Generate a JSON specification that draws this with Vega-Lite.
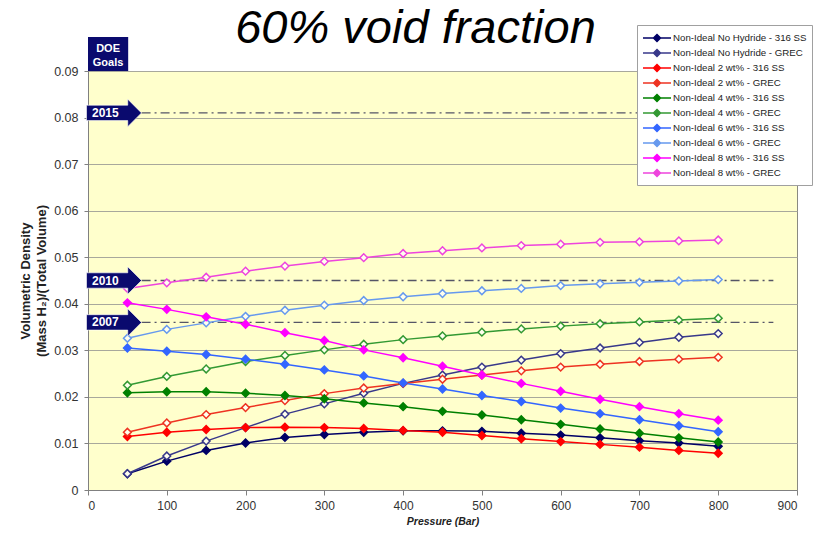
{
  "$schema": "https://vega.github.io/schema/vega-lite/v6.json",
  "autosize": {"type": "none"},
  "width": 709,
  "height": 419,
  "padding": {"left": 88, "top": 71, "right": 20, "bottom": 45},
  "background": "white",
  "config": {
    "font": "Liberation Sans",
    "view": {"fill": "#FFFFCC", "stroke": "#8a8a80", "strokeWidth": 1}
  },
  "title": {
    "text": "60% void fraction",
    "fontSize": 47,
    "fontStyle": "italic",
    "fontWeight": "normal",
    "font": "Liberation Sans",
    "color": "#000000",
    "anchor": "middle",
    "dx": -27,
    "dy": 28,
    "offset": 0
  },
  "layer": [
    {
      "data": {"values": [
        {"goal": "2015", "value": 0.081},
        {"goal": "2010", "value": 0.045},
        {"goal": "2007", "value": 0.036}
      ]},
      "mark": {"type": "rule", "strokeDash": [9, 4, 2, 4], "strokeWidth": 1.3, "color": "#555566"},
      "encoding": {
        "x": {"datum": 68},
        "x2": {"datum": 870},
        "y": {"field": "value", "type": "quantitative"}
      }
    },
    {
      "data": {"name": "series"},
      "mark": {"type": "line", "strokeWidth": 1.5},
      "encoding": {
        "x": {"field": "p", "type": "quantitative", "scale": {"domain": [0, 900]},
          "axis": {"values": [0,100,200,300,400,500,600,700,800,900], "title": "Pressure (Bar)", "grid": false,
            "labelFontSize": 12, "labelColor": "#333333", "labelPadding": 5, "tickSize": 5, "tickColor": "#808080",
            "domainColor": "#808080", "titleFontSize": 10.5, "titleFontWeight": "bold", "titleFontStyle": "italic",
            "titlePadding": 5, "titleColor": "#222222"}},
        "y": {"field": "v", "type": "quantitative", "scale": {"domain": [0, 0.09]},
          "axis": {"values": [0,0.01,0.02,0.03,0.04,0.05,0.06,0.07,0.08,0.09], "format": ".2~f",
            "title": ["Volumetric Density", "(Mass H₂)/(Total Volume)"],
            "grid": true, "gridColor": "#a8a89c", "gridWidth": 1,
            "labelFontSize": 12.5, "labelColor": "#333333", "labelPadding": 6, "tickSize": 4, "tickColor": "#808080",
            "domainColor": "#808080", "titleFontSize": 13, "titleFontWeight": "bold", "titleColor": "#222222",
            "titlePadding": 5, "titleLineHeight": 16}},
        "detail": {"field": "series"},
        "color": {
          "field": "series", "type": "nominal",
          "scale": {
            "domain": ["Non-Ideal No Hydride - 316 SS", "Non-Ideal No Hydride - GREC", "Non-Ideal 2 wt% - 316 SS", "Non-Ideal 2 wt% - GREC", "Non-Ideal 4 wt% - 316 SS", "Non-Ideal 4 wt% - GREC", "Non-Ideal 6 wt% - 316 SS", "Non-Ideal 6 wt% - GREC", "Non-Ideal 8 wt% - 316 SS", "Non-Ideal 8 wt% - GREC"],
            "range": ["#000066", "#38388a", "#ff0000", "#ee3322", "#008000", "#339933", "#3366ff", "#6699ee", "#ff00ff", "#ee44dd"]
          },
          "legend": {
            "title": null,
            "orient": "none",
            "legendX": 549,
            "legendY": -46,
            "fillColor": "#ffffff",
            "strokeColor": "#a0a0a0",
            "padding": 5,
            "labelFontSize": 9.7,
            "labelColor": "#222222",
            "labelFont": "Liberation Sans",
            "symbolType": "M-2,0H-0.5M0.5,0H2M0,-0.5L0.5,0L0,0.5L-0.5,0Z",
            "symbolSize": 196,
            "symbolOffset": 7,
            "symbolStrokeWidth": 1.5,
            "rowPadding": 0,
            "labelOffset": 8,
            "encode": {
              "symbols": {"update": {
                "fill": {"signal": "indexof(datum.value,'GREC')>=0 ? '#ffffff' : scale('color', datum.value)"},
                "stroke": {"signal": "scale('color', datum.value)"},
                "opacity": {"value": 1}
              }}
            }
          }
        }
      }
    },
    {
      "data": {"name": "series"},
      "mark": {"type": "point", "shape": "diamond", "size": 60, "strokeWidth": 1.5, "filled": false, "opacity": 1},
      "encoding": {
        "x": {"field": "p", "type": "quantitative"},
        "y": {"field": "v", "type": "quantitative"},
        "stroke": {"field": "series", "type": "nominal", "legend": null,
          "scale": {
            "domain": ["Non-Ideal No Hydride - 316 SS", "Non-Ideal No Hydride - GREC", "Non-Ideal 2 wt% - 316 SS", "Non-Ideal 2 wt% - GREC", "Non-Ideal 4 wt% - 316 SS", "Non-Ideal 4 wt% - GREC", "Non-Ideal 6 wt% - 316 SS", "Non-Ideal 6 wt% - GREC", "Non-Ideal 8 wt% - 316 SS", "Non-Ideal 8 wt% - GREC"],
            "range": ["#000066", "#38388a", "#ff0000", "#ee3322", "#008000", "#339933", "#3366ff", "#6699ee", "#ff00ff", "#ee44dd"]
          }},
        "fill": {
          "condition": {"test": "indexof(datum.series,'GREC')>=0", "value": "#ffffee"},
          "field": "series", "type": "nominal", "legend": null,
          "scale": {
            "domain": ["Non-Ideal No Hydride - 316 SS", "Non-Ideal No Hydride - GREC", "Non-Ideal 2 wt% - 316 SS", "Non-Ideal 2 wt% - GREC", "Non-Ideal 4 wt% - 316 SS", "Non-Ideal 4 wt% - GREC", "Non-Ideal 6 wt% - 316 SS", "Non-Ideal 6 wt% - GREC", "Non-Ideal 8 wt% - 316 SS", "Non-Ideal 8 wt% - GREC"],
            "range": ["#000066", "#38388a", "#ff0000", "#ee3322", "#008000", "#339933", "#3366ff", "#6699ee", "#ff00ff", "#ee44dd"]
          }}
      }
    },
    {
      "data": {"values": [
        {"goal": "2015", "value": 0.081},
        {"goal": "2010", "value": 0.045},
        {"goal": "2007", "value": 0.036}
      ]},
      "layer": [
        {
          "mark": {"type": "point", "shape": "M-1,-0.28H0.5V-0.5L1,0L0.5,0.5V0.28H-1Z", "size": 3025, "filled": true, "color": "#0a0a6e", "opacity": 1, "stroke": "#ffffff", "strokeWidth": 0.6},
          "encoding": {
            "x": {"datum": 33},
            "y": {"field": "value", "type": "quantitative"}
          }
        },
        {
          "mark": {"type": "text", "color": "#ffffff", "fontWeight": "bold", "fontSize": 12, "baseline": "middle", "align": "center"},
          "encoding": {
            "x": {"datum": 22},
            "y": {"field": "value", "type": "quantitative"},
            "text": {"field": "goal"}
          }
        }
      ]
    },
    {
      "data": {"values": [{"label": "DOE Goals"}]},
      "layer": [
        {
          "mark": {"type": "rect", "color": "#0a0a6e", "opacity": 1},
          "encoding": {
            "x": {"datum": 0},
            "x2": {"datum": 51},
            "y": {"datum": 0.09},
            "y2": {"datum": 0.0973}
          }
        },
        {
          "mark": {"type": "text", "text": ["DOE", "Goals"], "color": "#ffffff", "fontWeight": "bold", "fontSize": 11, "baseline": "middle", "align": "center", "lineHeight": 14},
          "encoding": {
            "x": {"datum": 25.5},
            "y": {"datum": 0.0948}
          }
        }
      ]
    }
  ],
  "datasets": {
    "series": [
      {"series": "Non-Ideal No Hydride - 316 SS", "p": 50, "v": 0.0035},
      {"series": "Non-Ideal No Hydride - 316 SS", "p": 100, "v": 0.0062},
      {"series": "Non-Ideal No Hydride - 316 SS", "p": 150, "v": 0.0085},
      {"series": "Non-Ideal No Hydride - 316 SS", "p": 200, "v": 0.0101},
      {"series": "Non-Ideal No Hydride - 316 SS", "p": 250, "v": 0.0113},
      {"series": "Non-Ideal No Hydride - 316 SS", "p": 300, "v": 0.0119},
      {"series": "Non-Ideal No Hydride - 316 SS", "p": 350, "v": 0.0124},
      {"series": "Non-Ideal No Hydride - 316 SS", "p": 400, "v": 0.0127},
      {"series": "Non-Ideal No Hydride - 316 SS", "p": 450, "v": 0.0127},
      {"series": "Non-Ideal No Hydride - 316 SS", "p": 500, "v": 0.0126},
      {"series": "Non-Ideal No Hydride - 316 SS", "p": 550, "v": 0.0122},
      {"series": "Non-Ideal No Hydride - 316 SS", "p": 600, "v": 0.0118},
      {"series": "Non-Ideal No Hydride - 316 SS", "p": 650, "v": 0.0112},
      {"series": "Non-Ideal No Hydride - 316 SS", "p": 700, "v": 0.0106},
      {"series": "Non-Ideal No Hydride - 316 SS", "p": 750, "v": 0.0101},
      {"series": "Non-Ideal No Hydride - 316 SS", "p": 800, "v": 0.0094},
      {"series": "Non-Ideal No Hydride - GREC", "p": 50, "v": 0.0035},
      {"series": "Non-Ideal No Hydride - GREC", "p": 100, "v": 0.0073},
      {"series": "Non-Ideal No Hydride - GREC", "p": 150, "v": 0.0105},
      {"series": "Non-Ideal No Hydride - GREC", "p": 200, "v": 0.0134},
      {"series": "Non-Ideal No Hydride - GREC", "p": 250, "v": 0.0163},
      {"series": "Non-Ideal No Hydride - GREC", "p": 300, "v": 0.0185},
      {"series": "Non-Ideal No Hydride - GREC", "p": 350, "v": 0.0208},
      {"series": "Non-Ideal No Hydride - GREC", "p": 400, "v": 0.0229},
      {"series": "Non-Ideal No Hydride - GREC", "p": 450, "v": 0.0247},
      {"series": "Non-Ideal No Hydride - GREC", "p": 500, "v": 0.0264},
      {"series": "Non-Ideal No Hydride - GREC", "p": 550, "v": 0.0279},
      {"series": "Non-Ideal No Hydride - GREC", "p": 600, "v": 0.0293},
      {"series": "Non-Ideal No Hydride - GREC", "p": 650, "v": 0.0305},
      {"series": "Non-Ideal No Hydride - GREC", "p": 700, "v": 0.0317},
      {"series": "Non-Ideal No Hydride - GREC", "p": 750, "v": 0.0328},
      {"series": "Non-Ideal No Hydride - GREC", "p": 800, "v": 0.0336},
      {"series": "Non-Ideal 2 wt% - 316 SS", "p": 50, "v": 0.0115},
      {"series": "Non-Ideal 2 wt% - 316 SS", "p": 100, "v": 0.0124},
      {"series": "Non-Ideal 2 wt% - 316 SS", "p": 150, "v": 0.0130},
      {"series": "Non-Ideal 2 wt% - 316 SS", "p": 200, "v": 0.0134},
      {"series": "Non-Ideal 2 wt% - 316 SS", "p": 250, "v": 0.0135},
      {"series": "Non-Ideal 2 wt% - 316 SS", "p": 300, "v": 0.0134},
      {"series": "Non-Ideal 2 wt% - 316 SS", "p": 350, "v": 0.0132},
      {"series": "Non-Ideal 2 wt% - 316 SS", "p": 400, "v": 0.0128},
      {"series": "Non-Ideal 2 wt% - 316 SS", "p": 450, "v": 0.0124},
      {"series": "Non-Ideal 2 wt% - 316 SS", "p": 500, "v": 0.0117},
      {"series": "Non-Ideal 2 wt% - 316 SS", "p": 550, "v": 0.0110},
      {"series": "Non-Ideal 2 wt% - 316 SS", "p": 600, "v": 0.0104},
      {"series": "Non-Ideal 2 wt% - 316 SS", "p": 650, "v": 0.0098},
      {"series": "Non-Ideal 2 wt% - 316 SS", "p": 700, "v": 0.0092},
      {"series": "Non-Ideal 2 wt% - 316 SS", "p": 750, "v": 0.0085},
      {"series": "Non-Ideal 2 wt% - 316 SS", "p": 800, "v": 0.0079},
      {"series": "Non-Ideal 2 wt% - GREC", "p": 50, "v": 0.0124},
      {"series": "Non-Ideal 2 wt% - GREC", "p": 100, "v": 0.0144},
      {"series": "Non-Ideal 2 wt% - GREC", "p": 150, "v": 0.0162},
      {"series": "Non-Ideal 2 wt% - GREC", "p": 200, "v": 0.0177},
      {"series": "Non-Ideal 2 wt% - GREC", "p": 250, "v": 0.0192},
      {"series": "Non-Ideal 2 wt% - GREC", "p": 300, "v": 0.0207},
      {"series": "Non-Ideal 2 wt% - GREC", "p": 350, "v": 0.0219},
      {"series": "Non-Ideal 2 wt% - GREC", "p": 400, "v": 0.0229},
      {"series": "Non-Ideal 2 wt% - GREC", "p": 450, "v": 0.0238},
      {"series": "Non-Ideal 2 wt% - GREC", "p": 500, "v": 0.0247},
      {"series": "Non-Ideal 2 wt% - GREC", "p": 550, "v": 0.0256},
      {"series": "Non-Ideal 2 wt% - GREC", "p": 600, "v": 0.0264},
      {"series": "Non-Ideal 2 wt% - GREC", "p": 650, "v": 0.0270},
      {"series": "Non-Ideal 2 wt% - GREC", "p": 700, "v": 0.0276},
      {"series": "Non-Ideal 2 wt% - GREC", "p": 750, "v": 0.0281},
      {"series": "Non-Ideal 2 wt% - GREC", "p": 800, "v": 0.0285},
      {"series": "Non-Ideal 4 wt% - 316 SS", "p": 50, "v": 0.0209},
      {"series": "Non-Ideal 4 wt% - 316 SS", "p": 100, "v": 0.0211},
      {"series": "Non-Ideal 4 wt% - 316 SS", "p": 150, "v": 0.0211},
      {"series": "Non-Ideal 4 wt% - 316 SS", "p": 200, "v": 0.0208},
      {"series": "Non-Ideal 4 wt% - 316 SS", "p": 250, "v": 0.0203},
      {"series": "Non-Ideal 4 wt% - 316 SS", "p": 300, "v": 0.0196},
      {"series": "Non-Ideal 4 wt% - 316 SS", "p": 350, "v": 0.0187},
      {"series": "Non-Ideal 4 wt% - 316 SS", "p": 400, "v": 0.0179},
      {"series": "Non-Ideal 4 wt% - 316 SS", "p": 450, "v": 0.0169},
      {"series": "Non-Ideal 4 wt% - 316 SS", "p": 500, "v": 0.0161},
      {"series": "Non-Ideal 4 wt% - 316 SS", "p": 550, "v": 0.0151},
      {"series": "Non-Ideal 4 wt% - 316 SS", "p": 600, "v": 0.0141},
      {"series": "Non-Ideal 4 wt% - 316 SS", "p": 650, "v": 0.0131},
      {"series": "Non-Ideal 4 wt% - 316 SS", "p": 700, "v": 0.0122},
      {"series": "Non-Ideal 4 wt% - 316 SS", "p": 750, "v": 0.0112},
      {"series": "Non-Ideal 4 wt% - 316 SS", "p": 800, "v": 0.0103},
      {"series": "Non-Ideal 4 wt% - GREC", "p": 50, "v": 0.0225},
      {"series": "Non-Ideal 4 wt% - GREC", "p": 100, "v": 0.0244},
      {"series": "Non-Ideal 4 wt% - GREC", "p": 150, "v": 0.0260},
      {"series": "Non-Ideal 4 wt% - GREC", "p": 200, "v": 0.0276},
      {"series": "Non-Ideal 4 wt% - GREC", "p": 250, "v": 0.0289},
      {"series": "Non-Ideal 4 wt% - GREC", "p": 300, "v": 0.0301},
      {"series": "Non-Ideal 4 wt% - GREC", "p": 350, "v": 0.0313},
      {"series": "Non-Ideal 4 wt% - GREC", "p": 400, "v": 0.0323},
      {"series": "Non-Ideal 4 wt% - GREC", "p": 450, "v": 0.0331},
      {"series": "Non-Ideal 4 wt% - GREC", "p": 500, "v": 0.0339},
      {"series": "Non-Ideal 4 wt% - GREC", "p": 550, "v": 0.0346},
      {"series": "Non-Ideal 4 wt% - GREC", "p": 600, "v": 0.0352},
      {"series": "Non-Ideal 4 wt% - GREC", "p": 650, "v": 0.0357},
      {"series": "Non-Ideal 4 wt% - GREC", "p": 700, "v": 0.0361},
      {"series": "Non-Ideal 4 wt% - GREC", "p": 750, "v": 0.0365},
      {"series": "Non-Ideal 4 wt% - GREC", "p": 800, "v": 0.0369},
      {"series": "Non-Ideal 6 wt% - 316 SS", "p": 50, "v": 0.0305},
      {"series": "Non-Ideal 6 wt% - 316 SS", "p": 100, "v": 0.0298},
      {"series": "Non-Ideal 6 wt% - 316 SS", "p": 150, "v": 0.0291},
      {"series": "Non-Ideal 6 wt% - 316 SS", "p": 200, "v": 0.0281},
      {"series": "Non-Ideal 6 wt% - 316 SS", "p": 250, "v": 0.0270},
      {"series": "Non-Ideal 6 wt% - 316 SS", "p": 300, "v": 0.0258},
      {"series": "Non-Ideal 6 wt% - 316 SS", "p": 350, "v": 0.0245},
      {"series": "Non-Ideal 6 wt% - 316 SS", "p": 400, "v": 0.0230},
      {"series": "Non-Ideal 6 wt% - 316 SS", "p": 450, "v": 0.0217},
      {"series": "Non-Ideal 6 wt% - 316 SS", "p": 500, "v": 0.0203},
      {"series": "Non-Ideal 6 wt% - 316 SS", "p": 550, "v": 0.0190},
      {"series": "Non-Ideal 6 wt% - 316 SS", "p": 600, "v": 0.0176},
      {"series": "Non-Ideal 6 wt% - 316 SS", "p": 650, "v": 0.0164},
      {"series": "Non-Ideal 6 wt% - 316 SS", "p": 700, "v": 0.0151},
      {"series": "Non-Ideal 6 wt% - 316 SS", "p": 750, "v": 0.0138},
      {"series": "Non-Ideal 6 wt% - 316 SS", "p": 800, "v": 0.0125},
      {"series": "Non-Ideal 6 wt% - GREC", "p": 50, "v": 0.0326},
      {"series": "Non-Ideal 6 wt% - GREC", "p": 100, "v": 0.0345},
      {"series": "Non-Ideal 6 wt% - GREC", "p": 150, "v": 0.0359},
      {"series": "Non-Ideal 6 wt% - GREC", "p": 200, "v": 0.0373},
      {"series": "Non-Ideal 6 wt% - GREC", "p": 250, "v": 0.0386},
      {"series": "Non-Ideal 6 wt% - GREC", "p": 300, "v": 0.0397},
      {"series": "Non-Ideal 6 wt% - GREC", "p": 350, "v": 0.0407},
      {"series": "Non-Ideal 6 wt% - GREC", "p": 400, "v": 0.0415},
      {"series": "Non-Ideal 6 wt% - GREC", "p": 450, "v": 0.0422},
      {"series": "Non-Ideal 6 wt% - GREC", "p": 500, "v": 0.0428},
      {"series": "Non-Ideal 6 wt% - GREC", "p": 550, "v": 0.0433},
      {"series": "Non-Ideal 6 wt% - GREC", "p": 600, "v": 0.0439},
      {"series": "Non-Ideal 6 wt% - GREC", "p": 650, "v": 0.0443},
      {"series": "Non-Ideal 6 wt% - GREC", "p": 700, "v": 0.0446},
      {"series": "Non-Ideal 6 wt% - GREC", "p": 750, "v": 0.0449},
      {"series": "Non-Ideal 6 wt% - GREC", "p": 800, "v": 0.0452},
      {"series": "Non-Ideal 8 wt% - 316 SS", "p": 50, "v": 0.0402},
      {"series": "Non-Ideal 8 wt% - 316 SS", "p": 100, "v": 0.0388},
      {"series": "Non-Ideal 8 wt% - 316 SS", "p": 150, "v": 0.0372},
      {"series": "Non-Ideal 8 wt% - 316 SS", "p": 200, "v": 0.0356},
      {"series": "Non-Ideal 8 wt% - 316 SS", "p": 250, "v": 0.0338},
      {"series": "Non-Ideal 8 wt% - 316 SS", "p": 300, "v": 0.0321},
      {"series": "Non-Ideal 8 wt% - 316 SS", "p": 350, "v": 0.0301},
      {"series": "Non-Ideal 8 wt% - 316 SS", "p": 400, "v": 0.0284},
      {"series": "Non-Ideal 8 wt% - 316 SS", "p": 450, "v": 0.0266},
      {"series": "Non-Ideal 8 wt% - 316 SS", "p": 500, "v": 0.0247},
      {"series": "Non-Ideal 8 wt% - 316 SS", "p": 550, "v": 0.0229},
      {"series": "Non-Ideal 8 wt% - 316 SS", "p": 600, "v": 0.0212},
      {"series": "Non-Ideal 8 wt% - 316 SS", "p": 650, "v": 0.0195},
      {"series": "Non-Ideal 8 wt% - 316 SS", "p": 700, "v": 0.0179},
      {"series": "Non-Ideal 8 wt% - 316 SS", "p": 750, "v": 0.0164},
      {"series": "Non-Ideal 8 wt% - 316 SS", "p": 800, "v": 0.0150},
      {"series": "Non-Ideal 8 wt% - GREC", "p": 50, "v": 0.0433},
      {"series": "Non-Ideal 8 wt% - GREC", "p": 100, "v": 0.0445},
      {"series": "Non-Ideal 8 wt% - GREC", "p": 150, "v": 0.0457},
      {"series": "Non-Ideal 8 wt% - GREC", "p": 200, "v": 0.0470},
      {"series": "Non-Ideal 8 wt% - GREC", "p": 250, "v": 0.0481},
      {"series": "Non-Ideal 8 wt% - GREC", "p": 300, "v": 0.0491},
      {"series": "Non-Ideal 8 wt% - GREC", "p": 350, "v": 0.0499},
      {"series": "Non-Ideal 8 wt% - GREC", "p": 400, "v": 0.0508},
      {"series": "Non-Ideal 8 wt% - GREC", "p": 450, "v": 0.0514},
      {"series": "Non-Ideal 8 wt% - GREC", "p": 500, "v": 0.0520},
      {"series": "Non-Ideal 8 wt% - GREC", "p": 550, "v": 0.0525},
      {"series": "Non-Ideal 8 wt% - GREC", "p": 600, "v": 0.0528},
      {"series": "Non-Ideal 8 wt% - GREC", "p": 650, "v": 0.0532},
      {"series": "Non-Ideal 8 wt% - GREC", "p": 700, "v": 0.0533},
      {"series": "Non-Ideal 8 wt% - GREC", "p": 750, "v": 0.0535},
      {"series": "Non-Ideal 8 wt% - GREC", "p": 800, "v": 0.0537}
    ]
  }
}
